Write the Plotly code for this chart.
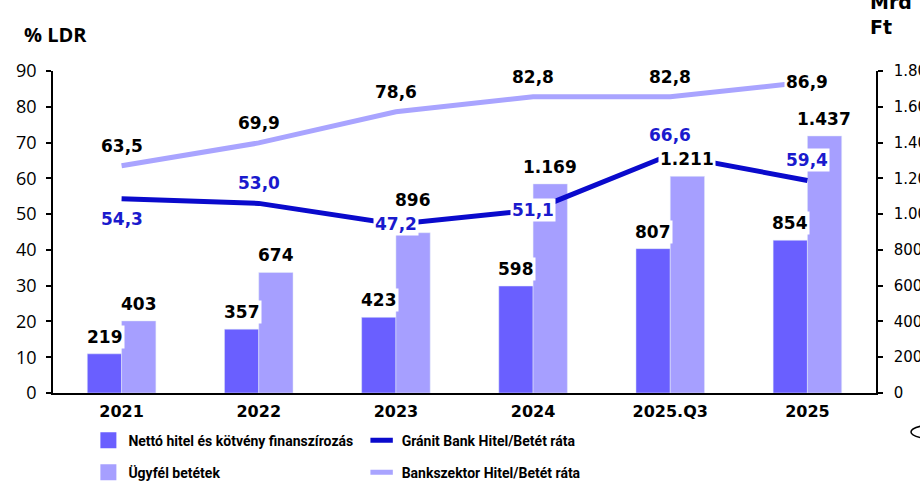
import plotly.graph_objects as go

# ---------------- data ----------------
categories = ["2021", "2022", "2023", "2024", "2025.Q3", "2025"]
netto_hitel = [219, 357, 423, 598, 807, 854]            # Mrd Ft
ugyfel_betetek = [403, 674, 896, 1169, 1211, 1437]      # Mrd Ft
granit_ldr = [54.3, 53.0, 47.2, 51.1, 66.6, 59.4]       # %
bankszektor_ldr = [63.5, 69.9, 78.6, 82.8, 82.8, 86.9]  # %
left_ticks = [0, 10, 20, 30, 40, 50, 60, 70, 80, 90]
right_ticks = [0, 200, 400, 600, 800, 1000, 1200, 1400, 1600, 1800]

names = ["Nettó hitel és kötvény finanszírozás", "Ügyfél betétek",
         "Gránit Bank Hitel/Betét ráta", "Bankszektor Hitel/Betét ráta"]

# ---------------- styles ----------------
C_DARK_BAR = "#6A5FFF"
C_LIGHT_BAR = "#A69FFF"
C_GRANIT = "#0A0ACC"
C_BANK = "#A9A4FF"
C_GRANIT_TXT = "#1A1ACD"
LABEL_FONT = dict(family="DejaVu Sans", size=17, color="black", weight="bold")

granit_place = ["below", "above", "center", "center", "above", "above"]
bank_place = ["above", "above", "above", "above", "above", "center"]
ugyfel_label_lift = [0, 0, 16, 0, 0, 0]   # extra pixel lift to avoid collisions


def fmt_int(v):
    return f"{v:,}".replace(",", ".")


def fmt_dec(v):
    return f"{v:.1f}".replace(".", ",")


fig = go.Figure()

# bars on primary y (right side, Mrd Ft)
fig.add_trace(go.Bar(x=categories, y=netto_hitel, name=names[0], marker_color=C_DARK_BAR,
                     yaxis="y", showlegend=False))
fig.add_trace(go.Bar(x=categories, y=ugyfel_betetek, name=names[1], marker_color=C_LIGHT_BAR,
                     yaxis="y", showlegend=False))

# lines on y2 (left side, %)
fig.add_trace(go.Scatter(x=categories, y=bankszektor_ldr, name=names[3], mode="lines",
                         line=dict(color=C_BANK, width=5), yaxis="y2", showlegend=False))
fig.add_trace(go.Scatter(x=categories, y=granit_ldr, name=names[2], mode="lines",
                         line=dict(color=C_GRANIT, width=5), yaxis="y2", showlegend=False))

# legend entries
fig.add_trace(go.Scatter(x=[None], y=[None], mode="markers", name=names[0],
                         marker=dict(symbol="square", size=16, color=C_DARK_BAR),
                         legend="legend", legendgroup="g1"))
fig.add_trace(go.Scatter(x=[None], y=[None], mode="markers", name=names[1],
                         marker=dict(symbol="square", size=16, color=C_LIGHT_BAR),
                         legend="legend", legendgroup="g2"))
fig.add_trace(go.Scatter(x=[None], y=[None], mode="markers", name=names[2],
                         marker=dict(symbol="line-ew", size=16, color=C_GRANIT,
                                     line=dict(color=C_GRANIT, width=5)),
                         legend="legend2", legendgroup="g3"))
fig.add_trace(go.Scatter(x=[None], y=[None], mode="markers", name=names[3],
                         marker=dict(symbol="line-ew", size=16, color=C_BANK,
                                     line=dict(color=C_BANK, width=5)),
                         legend="legend2", legendgroup="g4"))

annotations = []
# bar labels (x given as category index on the category axis)
for i, v in enumerate(netto_hitel):
    annotations.append(dict(x=i, y=v, xref="x", yref="y", text=fmt_int(v), showarrow=False,
                            yanchor="bottom", xshift=-17, yshift=5, bgcolor="white",
                            font=LABEL_FONT))
for i, (v, lift) in enumerate(zip(ugyfel_betetek, ugyfel_label_lift)):
    annotations.append(dict(x=i, y=v, xref="x", yref="y", text=fmt_int(v), showarrow=False,
                            yanchor="bottom", xshift=17, yshift=5 + lift, bgcolor="white",
                            font=LABEL_FONT))
# line labels
for i, (v, p) in enumerate(zip(bankszektor_ldr, bank_place)):
    ys = {"above": 20, "below": -20, "center": 0}[p]
    annotations.append(dict(x=i, y=v, xref="x", yref="y2", text=fmt_dec(v), showarrow=False,
                            yanchor="middle", yshift=ys, bgcolor="white", font=LABEL_FONT))
for i, (v, p) in enumerate(zip(granit_ldr, granit_place)):
    ys = {"above": 20, "below": -20, "center": 0}[p]
    annotations.append(dict(x=i, y=v, xref="x", yref="y2", text=fmt_dec(v), showarrow=False,
                            yanchor="middle", yshift=ys, bgcolor="white",
                            font=dict(LABEL_FONT, color=C_GRANIT_TXT)))
# the 2025.Q3 deposit label sits on top of the Gránit line in the reference
annotations.append(annotations.pop(len(netto_hitel) + 4))

# axis titles
annotations.append(dict(x=-0.0377, y=1.112, xref="paper", yref="paper", text="% LDR",
                        showarrow=False, xanchor="left", yanchor="middle",
                        font=dict(family="Open Sans", size=20, color="black", weight="bold")))
annotations.append(dict(x=0.990, y=1.177, xref="paper", yref="paper", text="Mrd<br>Ft",
                        showarrow=False, xanchor="left", yanchor="middle", align="left",
                        font=dict(family="DejaVu Sans", size=19, color="black", weight="bold")))

legend_font = dict(family="Liberation Sans Narrow, Roboto, sans-serif",
                   size=14, color="black", weight="bold")

fig.update_layout(
    width=920, height=487,
    margin=dict(l=53, r=44, t=71, b=94, autoexpand=False),
    paper_bgcolor="white", plot_bgcolor="white",
    barmode="group", bargap=0.5, bargroupgap=0,
    xaxis=dict(type="category", categoryorder="array", categoryarray=categories,
               range=[-0.5, len(categories) - 0.5],
               showline=True, linecolor="black", linewidth=2,
               ticks="", showgrid=False, zeroline=False, ticklabelstandoff=3,
               tickfont=dict(family="DejaVu Sans", size=16, color="black", weight="bold")),
    yaxis=dict(side="right", range=[0, 1800], tickvals=right_ticks,
               ticktext=[fmt_int(t) for t in right_ticks],
               showline=True, linecolor="black", linewidth=1.5, ticks="outside", ticklen=5,
               tickcolor="black", tickwidth=1.5, showgrid=False, zeroline=False,
               ticklabelstandoff=8, automargin=False,
               tickfont=dict(family="DejaVu Sans", size=15, color="black")),
    yaxis2=dict(side="left", overlaying="y", range=[0, 90], tickvals=left_ticks,
                showline=True, linecolor="black", linewidth=1.5, ticks="outside", ticklen=5,
                tickcolor="black", tickwidth=1.5, showgrid=False, zeroline=False,
                ticklabelstandoff=6, automargin=False,
                tickfont=dict(family="Open Sans", size=18, color="black")),
    legend=dict(x=0.043, y=-0.098, xanchor="left", yanchor="top", orientation="v",
                traceorder="grouped", tracegroupgap=11, font=legend_font,
                bgcolor="rgba(0,0,0,0)"),
    legend2=dict(x=0.375, y=-0.098, xanchor="left", yanchor="top", orientation="v",
                 traceorder="grouped", tracegroupgap=11, font=legend_font,
                 bgcolor="rgba(0,0,0,0)"),
    annotations=annotations,
    shapes=[dict(type="circle", xref="paper", yref="paper", x0=1.0425, x1=1.12,
                 y0=-0.146, y1=-0.096, line=dict(color="black", width=1.5))],
    showlegend=True,
)

fig.write_html("out.html", config={"displayModeBar": False},
               post_script="document.body.style.margin='0';document.body.style.padding='0';")
